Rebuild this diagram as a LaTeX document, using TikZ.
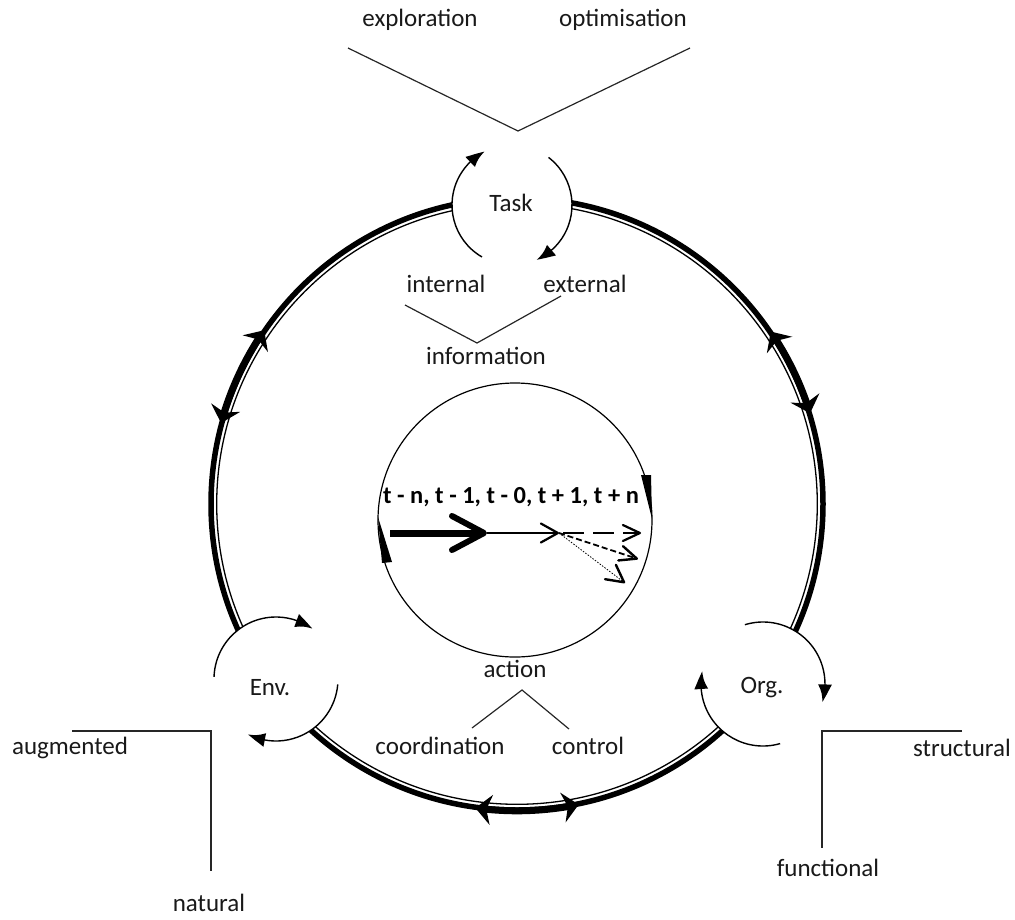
\documentclass[tikz,border=0pt]{standalone}
\usepackage{fontspec}
\setmainfont{Carlito}
\usetikzlibrary{arrows.meta,bending,calc}

\begin{document}
\begin{tikzpicture}[x=1pt,y=-1pt,
  lbl/.style={font=\fontsize{25}{30}\selectfont, inner sep=0pt, text=black!90},
  hub/.style={circle, fill=white, draw=none, minimum size=#1, inner sep=0pt},
  cyc/.style={line width=1.4pt, -{Latex[length=18pt,width=14pt,bend]}},
  pair/.style={line width=7pt, {Stealth[length=16pt,width=30pt,inset=5pt]}-{Stealth[length=16pt,width=30pt,inset=5pt]}},
  leader/.style={line width=1.2pt, draw=black!85},
]
\useasboundingbox (0,0) rectangle (1015,919);

% ---- main cycle: thick outer line with a thin inner companion
\coordinate (O) at (517,504);
\draw[line width=5.5pt] (O) circle[radius=306pt];
\draw[line width=1.3pt] (O) circle[radius=300.3pt];

% two-headed arrows on the cycle
\draw[pair] ($(O)+(145.5:306.8pt)$) arc[start angle=145.5, end angle=164.7, radius=306.8pt];
\draw[pair] ($(O)+(17.2:306.8pt)$) arc[start angle=17.2, end angle=34.2, radius=306.8pt];
\draw[pair] ($(O)+(262.2:306.8pt)$) arc[start angle=262.2, end angle=281.6, radius=306.8pt];

% ---- the three hubs on the cycle
\node[hub=120pt] (taskring) at (512,205) {};
\node[hub=124pt] (envring) at (276,679) {};
\node[hub=124pt] (orgring) at (763,684) {};

\draw[cyc] ($(taskring.center)+(240:60pt)$) arc[start angle=240, end angle=117, radius=60pt];
\draw[cyc] ($(taskring.center)+(52.5:60pt)$) arc[start angle=52.5, end angle=-66, radius=60pt];

\draw[cyc] ($(envring.center)+(178:62pt)$) arc[start angle=178, end angle=54, radius=62pt];
\draw[cyc] ($(envring.center)+(-5:62pt)$) arc[start angle=-5, end angle=-117, radius=62pt];

\draw[cyc] ($(orgring.center)+(107:62pt)$) arc[start angle=107, end angle=-17, radius=62pt];
\draw[cyc] ($(orgring.center)+(-74:62pt)$) arc[start angle=-74, end angle=-192, radius=62pt];

\node[lbl] (task) at (511,203) {Task};
\node[lbl] (env) at (270,688) {Env.};
\node[lbl] (org) at (762,688) {Org.};

% ---- inner time circle
\node[circle, draw, line width=1.2pt, minimum size=274pt, inner sep=0pt] (timec) at (515,520) {};
\fill (641,475) -- (651,475) -- (652,519) -- cycle;
\fill (378,517) -- (382,563) -- (392,562) -- cycle;

\node[inner sep=0pt, font=\fontsize{24.5}{28}\selectfont\bfseries] (steps) at (511,497) {t - n, t - 1, t - 0, t + 1, t + n};

\coordinate (p0) at (390,533);
\coordinate (p1) at (487,533);
\coordinate (p2) at (559,533);
\coordinate (q1) at (641,533);
\coordinate (q2) at (638,559);
\coordinate (q3) at (625,583);

\draw[line width=7pt, -{Straight Barb[length=32pt, width=34pt, line width=6pt, round]}] (p0) -- (p1);
\draw[line width=2.2pt, -{Straight Barb[length=17pt, width=19pt, round]}] (p1) -- (p2);
\draw[line width=2.2pt, dash pattern=on 21pt off 9pt, dash phase=-4pt, -{Straight Barb[length=17pt, width=16pt, round]}] (p2) -- (q1);
\draw[line width=1.8pt, dash pattern=on 6pt off 3pt, -{Straight Barb[length=17pt, width=15pt, line width=2.4pt, round]}] (p2) -- (q2);
\draw[line width=0.8pt, dash pattern=on 1.5pt off 1.5pt, -{Straight Barb[length=17pt, width=18pt, line width=2.4pt, round]}] (p2) -- (q3);

% ---- labels and their leader lines
\node[lbl] (explo) at (420,20) {exploration};
\node[lbl] (optim) at (623,20) {optimisation};
\coordinate (vt1) at (348,48);
\coordinate (vt0) at (518,131);
\coordinate (vt2) at (690,48);
\draw[leader] (vt1) -- (vt0) -- (vt2);

\node[lbl] (intl) at (446,284) {internal};
\node[lbl] (extl) at (585,284) {external};
\node[lbl] (info) at (486,356) {information};
\coordinate (vi1) at (405,305);
\coordinate (vi0) at (477,343);
\coordinate (vi2) at (561,296);
\draw[leader] (vi1) -- (vi0) -- (vi2);

\node[lbl] (act) at (515,669) {action};
\node[lbl] (coord) at (440,746) {coordination};
\node[lbl] (ctrl) at (588,746) {control};
\coordinate (va1) at (472,728);
\coordinate (va0) at (522,690);
\coordinate (va2) at (569,729);
\draw[leader] (va1) -- (va0) -- (va2);

\node[lbl] (augm) at (70,748) {augmented};
\node[lbl] (natu) at (209,903) {natural};
\coordinate (el1) at (72,731);
\coordinate (el0) at (211,731);
\coordinate (el2) at (211,871);
\draw[leader] (el1) -- (el0) -- (el2);

\node[lbl] (struc) at (962,748) {structural};
\node[lbl] (func) at (828,868) {functional};
\coordinate (or1) at (962,731);
\coordinate (or0) at (822,731);
\coordinate (or2) at (822,848);
\draw[leader] (or1) -- (or0) -- (or2);
\end{tikzpicture}
\end{document}
